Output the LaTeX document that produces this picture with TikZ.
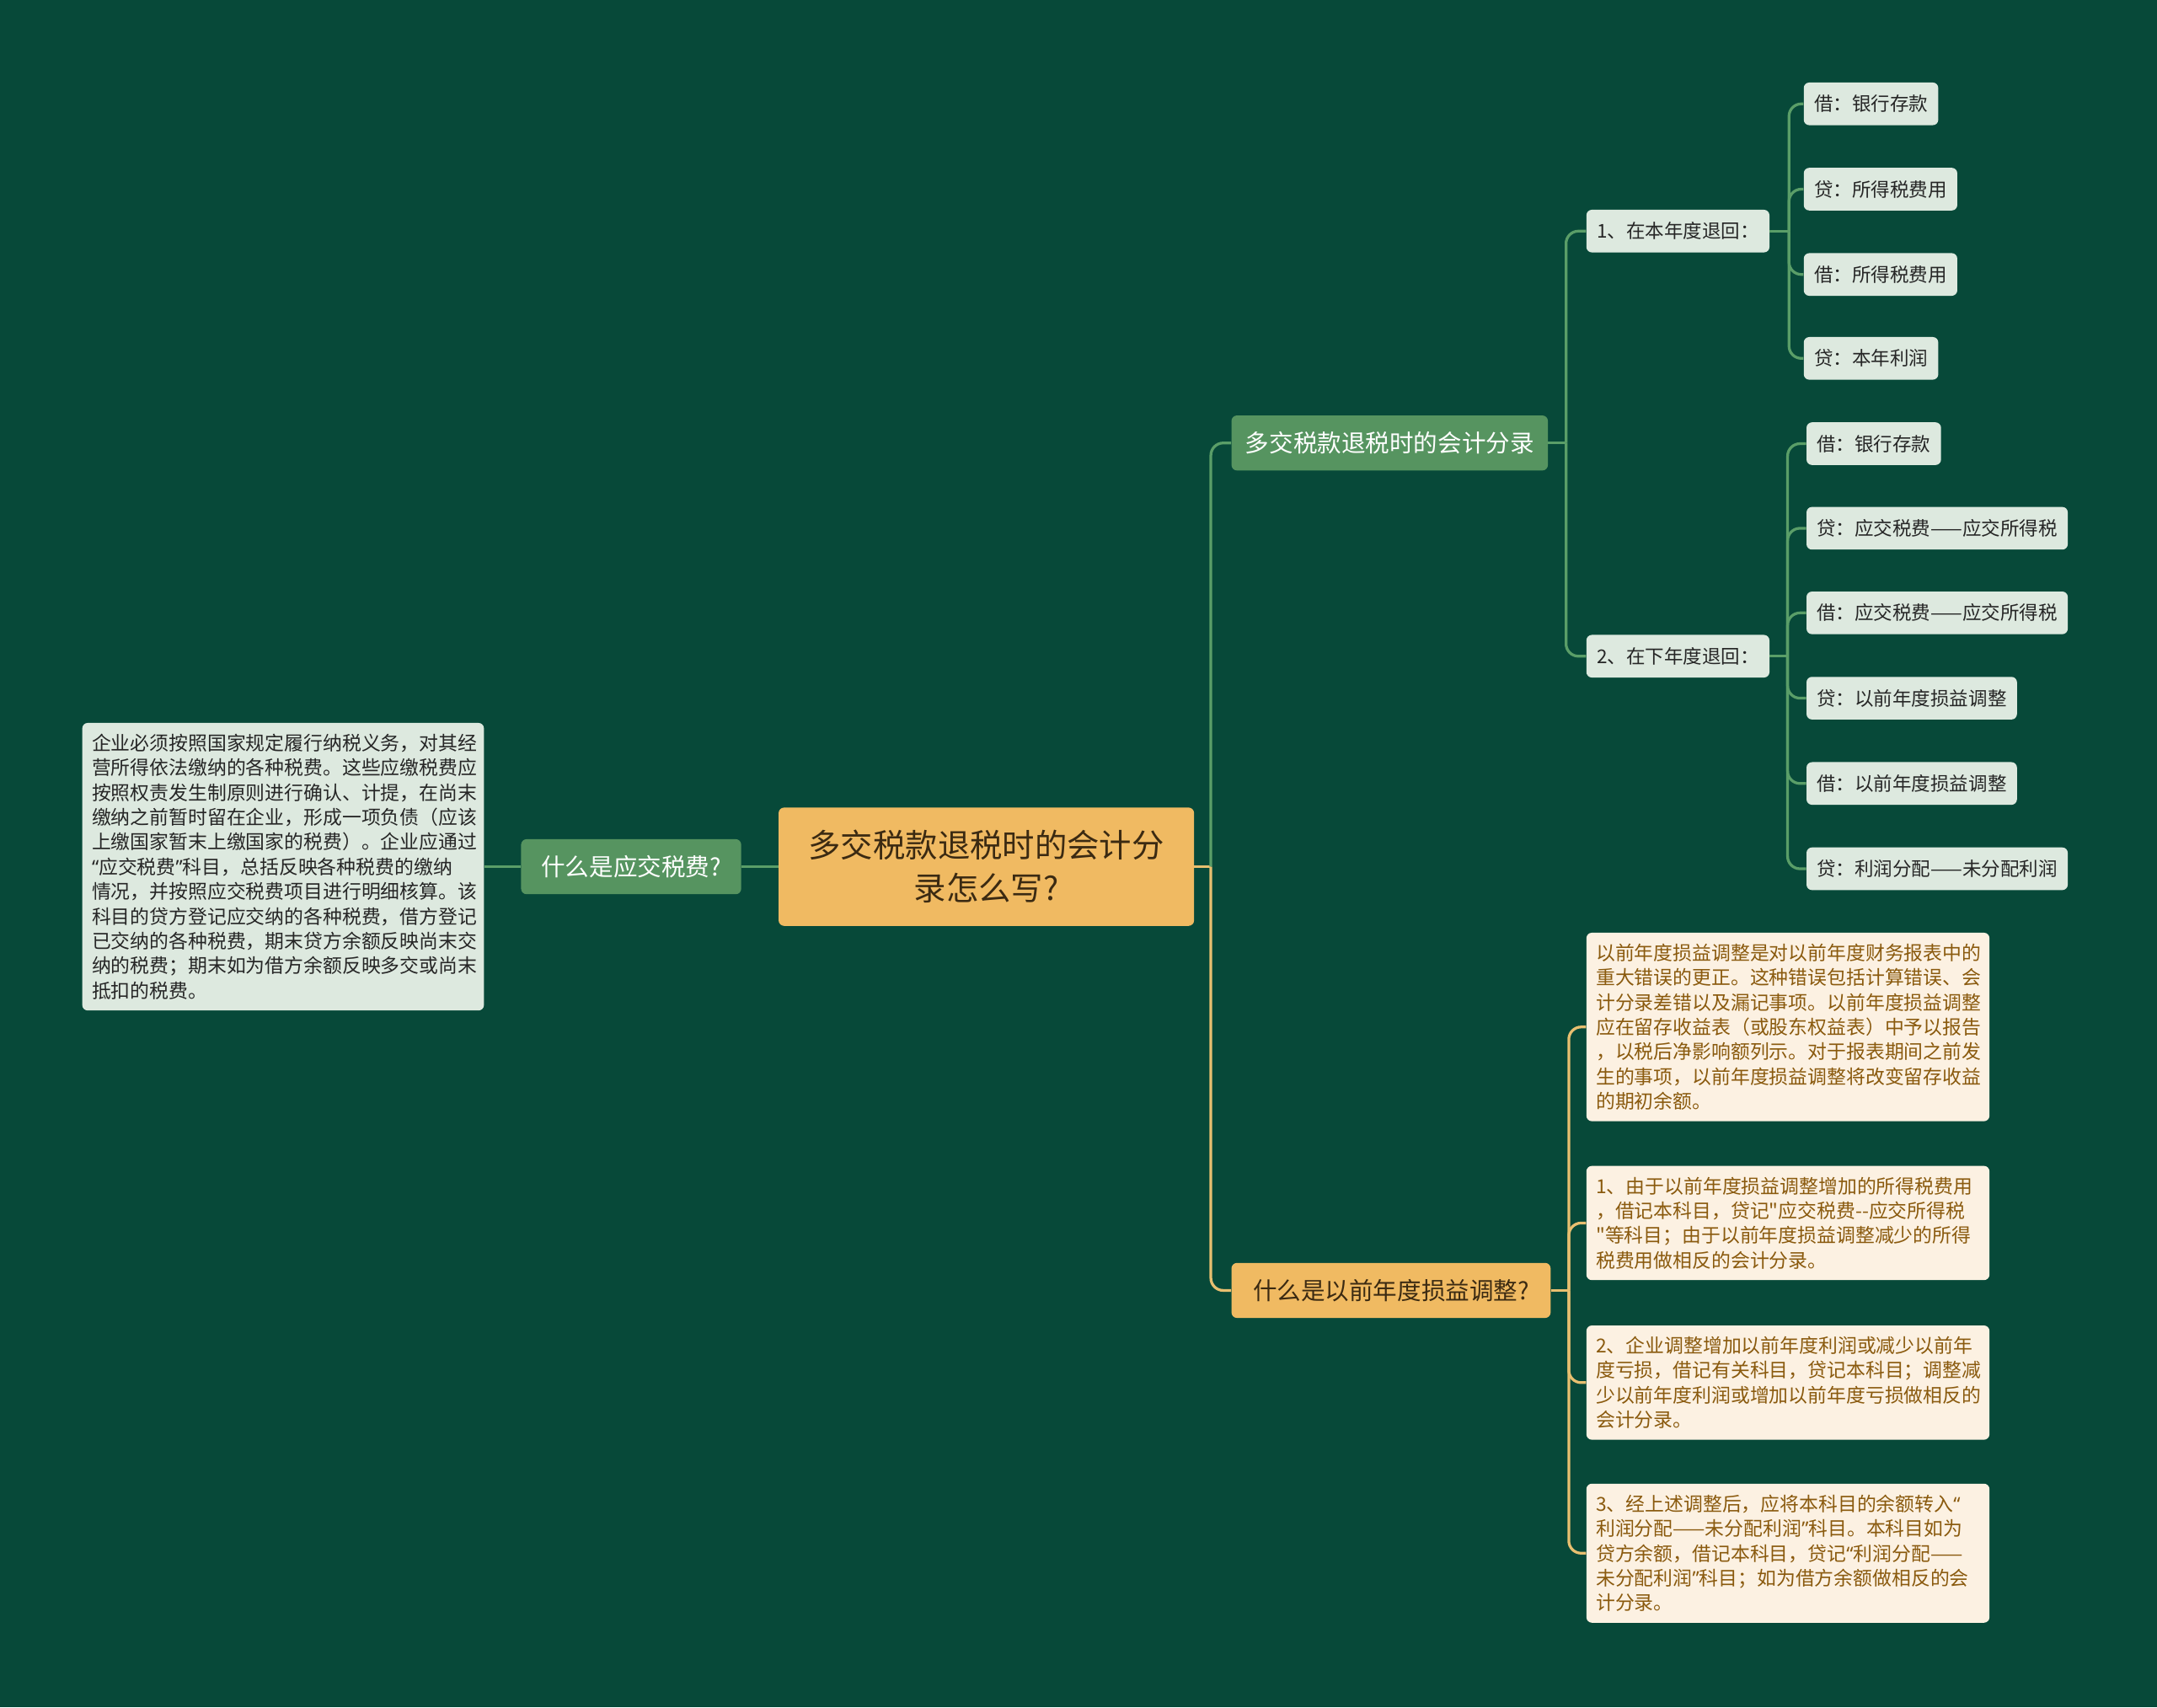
\documentclass[tikz,border=0pt]{standalone}
\usepackage{fontspec}
\setmainfont{Noto Sans CJK SC}[Ligatures=TeXOff]
\newfontfamily\comillas{Noto Sans}[Ligatures=TeXOff]
\newcommand{\ci}{{\comillas “}}
\newcommand{\cd}{{\comillas ”}}

\definecolor{fondo}{HTML}{074939}
\definecolor{raizfill}{HTML}{F0BA62}
\definecolor{raiztext}{HTML}{3B2A12}
\definecolor{ramafill}{HTML}{569460}
\definecolor{hojafill}{HTML}{DDE9DF}
\definecolor{hojatext}{HTML}{262626}
\definecolor{notafill}{HTML}{FCF1E2}
\definecolor{notatext}{HTML}{8A5A0E}
\definecolor{lineaverde}{HTML}{5A9E68}
\definecolor{lineanaranja}{HTML}{E8BF70}

\begin{document}
\begin{tikzpicture}[x=1pt,y=-1pt,
    raiz/.style={fill=raizfill, text=raiztext, rounded corners=4pt, align=center,
        font=\fontsize{23.5}{31}\selectfont, minimum width=302pt, minimum height=86pt},
    rama/.style={fill=ramafill, text=white, rounded corners=4pt, anchor=west,
        font=\fontsize{17.5}{20}\selectfont, minimum height=40pt, inner xsep=10pt},
    ramanaranja/.style={rama, fill=raizfill, text=raiztext, minimum width=232pt},
    hoja/.style={fill=hojafill, text=hojatext, rounded corners=4pt, anchor=west,
        font=\fontsize{13.8}{16}\selectfont, minimum height=31pt, inner xsep=7.5pt},
    nota/.style={fill=notafill, text=notatext, rounded corners=4pt, anchor=west, align=left,
        font=\fontsize{14}{18}\selectfont, inner xsep=7pt, inner ysep=8pt, text width=279pt},
    verde/.style={draw=lineaverde, line width=2pt},
    naranja/.style={draw=lineanaranja, line width=2pt},
]
    % Fondo
    \fill[fondo] (0,0) rectangle (1568,1241);
    \useasboundingbox (0,0) rectangle (1568,1241);

    % Centro y ramas principales
    \node[raiz] (raiz) at (717,630) {多交税款退税时的会计分\\录怎么写?};
    \node[rama, anchor=east, minimum width=160pt] (yjsf) at (539,630) {什么是应交税费?};
    \node[rama] (djsk) at (895,322) {多交税款退税时的会计分录};
    \node[ramanaranja] (yqnd) at (895,938) {什么是以前年度损益调整?};

    % Nota izquierda
    \node[nota, anchor=east, fill=hojafill, text=hojatext, text width=278pt] (yjsfnota) at (352,630)
        {企业必须按照国家规定履行纳税义务，对其经\\
         营所得依法缴纳的各种税费。这些应缴税费应\\
         按照权责发生制原则进行确认、计提，在尚末\\
         缴纳之前暂时留在企业，形成一项负债（应该\\
         上缴国家暂末上缴国家的税费）。企业应通过\\
         \ci 应交税费\cd 科目，总括反映各种税费的缴纳\\
         情况，并按照应交税费项目进行明细核算。该\\
         科目的贷方登记应交纳的各种税费，借方登记\\
         已交纳的各种税费，期末贷方余额反映尚末交\\
         纳的税费；期末如为借方余额反映多交或尚末\\
         抵扣的税费。};

    % Subramas
    \node[hoja] (bnd) at (1153,168) {1、在本年度退回：};
    \node[hoja] (xnd) at (1153,477) {2、在下年度退回：};

    % Hojas: en el ano
    \node[hoja] (bnd1) at (1311,75.5) {借：银行存款};
    \node[hoja] (bnd2) at (1311,137.5) {贷：所得税费用};
    \node[hoja] (bnd3) at (1311,199.5) {借：所得税费用};
    \node[hoja] (bnd4) at (1311,260.5) {贷：本年利润};

    % Hojas: ano siguiente
    \node[hoja] (xnd1) at (1313,322.5) {借：银行存款};
    \node[hoja] (xnd2) at (1313,384) {贷：应交税费——应交所得税};
    \node[hoja] (xnd3) at (1313,445.5) {借：应交税费——应交所得税};
    \node[hoja] (xnd4) at (1313,507.5) {贷：以前年度损益调整};
    \node[hoja] (xnd5) at (1313,569.5) {借：以前年度损益调整};
    \node[hoja] (xnd6) at (1313,631.5) {贷：利润分配——未分配利润};

    % Notas derechas
    \node[nota] (yqnd1) at (1153,746.5)
        {以前年度损益调整是对以前年度财务报表中的\\
         重大错误的更正。这种错误包括计算错误、会\\
         计分录差错以及漏记事项。以前年度损益调整\\
         应在留存收益表（或股东权益表）中予以报告\\
         ，以税后净影响额列示。对于报表期间之前发\\
         生的事项，以前年度损益调整将改变留存收益\\
         的期初余额。};
    \node[nota] (yqnd2) at (1153,889)
        {1、由于以前年度损益调整增加的所得税费用\\
         ，借记本科目，贷记"应交税费--应交所得税\\
         "等科目；由于以前年度损益调整减少的所得\\
         税费用做相反的会计分录。};
    \node[nota] (yqnd3) at (1153,1005)
        {2、企业调整增加以前年度利润或减少以前年\\
         度亏损，借记有关科目，贷记本科目；调整减\\
         少以前年度利润或增加以前年度亏损做相反的\\
         会计分录。};
    \node[nota] (yqnd4) at (1153,1129)
        {3、经上述调整后，应将本科目的余额转入\ci\\
         利润分配——未分配利润\cd 科目。本科目如为\\
         贷方余额，借记本科目，贷记\ci 利润分配——\\
         未分配利润\cd 科目；如为借方余额做相反的会\\
         计分录。};

    % Conexiones izquierda
    \draw[verde] (yjsfnota.east) -- (yjsf.west);
    \draw[verde] (yjsf.east) -- (raiz.west);

    % Conexiones del centro
    \draw[naranja] (raiz.east) -- ++(12,0) coordinate (raizj);
    \draw[verde, rounded corners=9pt] (raizj) |- (djsk.west);
    \draw[naranja, rounded corners=9pt] (raizj) |- (yqnd.west);

    % Rama verde
    \draw[verde] (djsk.east) -- ++(13,0) coordinate (djskj);
    \draw[verde, rounded corners=9pt] (djskj) |- (bnd.west);
    \draw[verde, rounded corners=9pt] (djskj) |- (xnd.west);

    \draw[verde] (bnd.east) -- ++(14,0) coordinate (bndj);
    \draw[verde, rounded corners=9pt] (bndj) |- (bnd1.west);
    \draw[verde, rounded corners=9pt] (bndj) |- (bnd2.west);
    \draw[verde, rounded corners=9pt] (bndj) |- (bnd3.west);
    \draw[verde, rounded corners=9pt] (bndj) |- (bnd4.west);

    \draw[verde] (xnd.east) -- ++(13,0) coordinate (xndj);
    \draw[verde, rounded corners=9pt] (xndj) |- (xnd1.west);
    \draw[verde, rounded corners=9pt] (xndj) |- (xnd2.west);
    \draw[verde, rounded corners=9pt] (xndj) |- (xnd3.west);
    \draw[verde, rounded corners=9pt] (xndj) |- (xnd4.west);
    \draw[verde, rounded corners=9pt] (xndj) |- (xnd5.west);
    \draw[verde, rounded corners=9pt] (xndj) |- (xnd6.west);

    % Rama naranja
    \draw[naranja] (yqnd.east) -- ++(13,0) coordinate (yqndj);
    \draw[naranja, rounded corners=9pt] (yqndj) |- (yqnd1.west);
    \draw[naranja, rounded corners=9pt] (yqndj) |- (yqnd2.west);
    \draw[naranja, rounded corners=9pt] (yqndj) |- (yqnd3.west);
    \draw[naranja, rounded corners=9pt] (yqndj) |- (yqnd4.west);
\end{tikzpicture}
\end{document}
